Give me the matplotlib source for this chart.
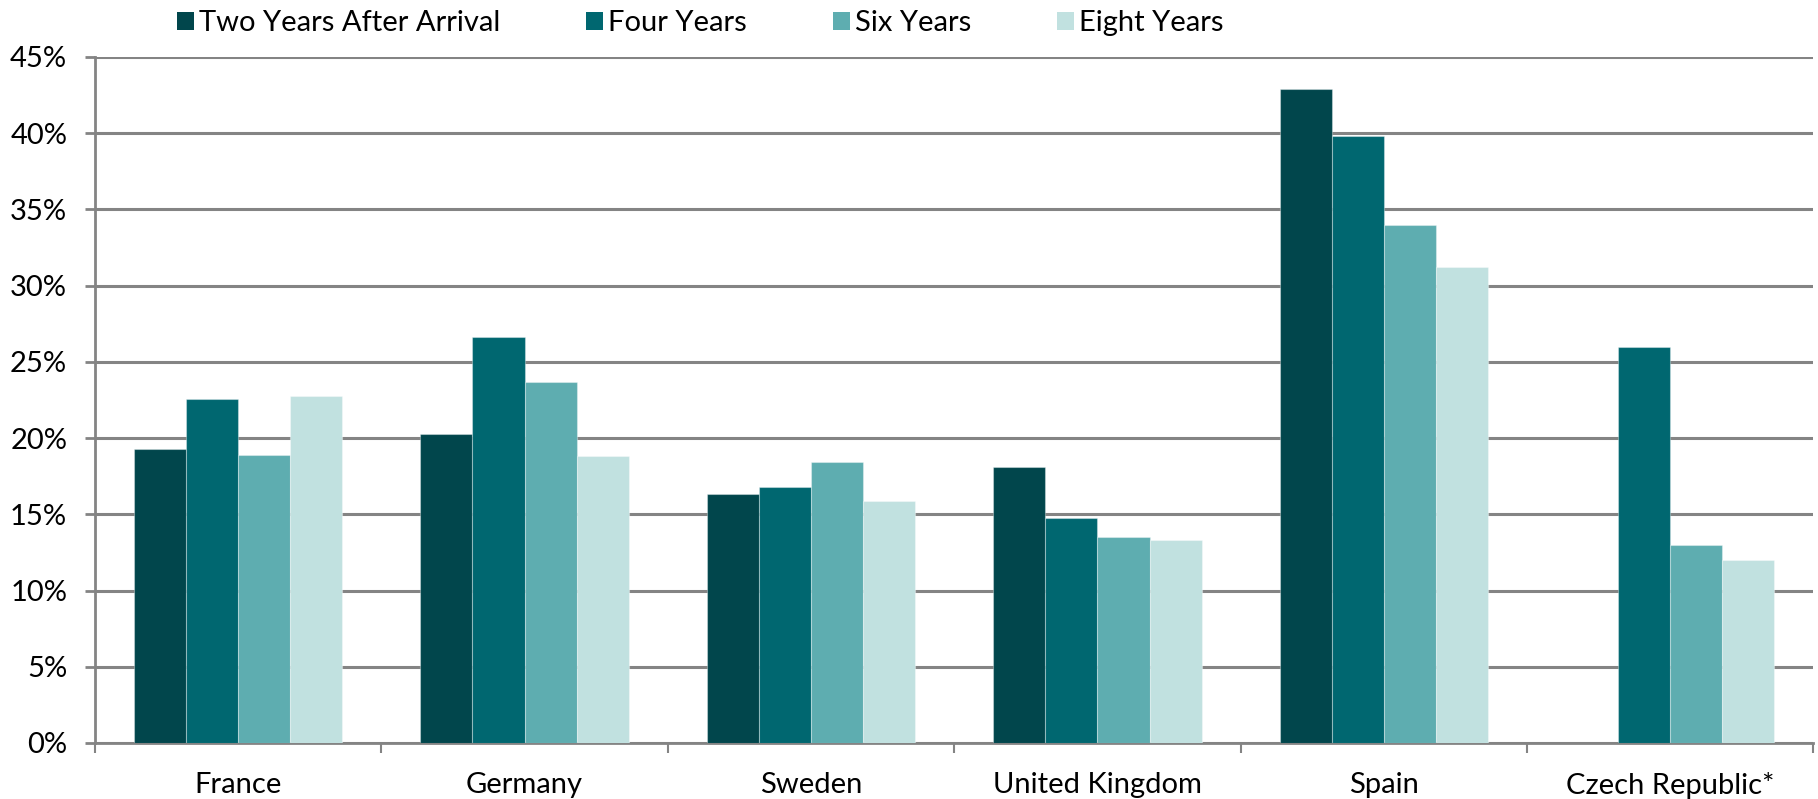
import matplotlib.pyplot as plt
import numpy as np
from matplotlib.patches import Patch
from matplotlib.ticker import FuncFormatter, FixedLocator

plt.rcParams['font.family'] = ['Lato', 'DejaVu Sans']

countries = ['France', 'Germany', 'Sweden', 'United Kingdom', 'Spain', 'Czech Republic*']
series = ['Two Years After Arrival', 'Four Years', 'Six Years', 'Eight Years']
two_years = [19.3, 20.3, 16.3, 18.1, 42.9, np.nan]
four_years = [22.55, 26.6, 16.8, 14.75, 39.8, 26.0]
six_years = [18.9, 23.65, 18.45, 13.5, 34.0, 13.0]
eight_years = [22.75, 18.8, 15.9, 13.3, 31.2, 12.0]
colors = ['#01464c', '#006770', '#5eadb0', '#c1e1e0']

grid_col = '#848484'

fig = plt.figure(figsize=(18.18, 7.99), dpi=100)
ax = fig.add_axes([0.05226, 0.0701, 0.9452, 0.8586])

x = np.arange(len(countries))
w = 0.182
values = [two_years, four_years, six_years, eight_years]
for i, (vals, c) in enumerate(zip(values, colors)):
    ax.bar(x + (i - 1.5) * w, vals, width=w, color=c,
           edgecolor=(1, 1, 1, 0.35), linewidth=0.8, zorder=3)

ax.set_xlim(-0.5, len(countries) - 0.5)
ax.set_ylim(0, 45)
ax.set_yticks(np.arange(0, 46, 5))
ax.yaxis.set_major_formatter(FuncFormatter(lambda v, p: f'{v:.0f}%'))
ax.grid(axis='y', color=grid_col, linewidth=2.2, zorder=0)
ax.set_axisbelow(True)

for s in ['top', 'right']:
    ax.spines[s].set_visible(False)
for s in ['left', 'bottom']:
    ax.spines[s].set_color(grid_col)
    ax.spines[s].set_linewidth(2)

ax.set_xticks(x)
ax.set_xticklabels(countries)
ax.xaxis.set_minor_locator(FixedLocator(np.arange(-0.5, len(countries), 1)))
ax.tick_params(axis='x', which='major', length=0, pad=21, labelsize=21)
ax.tick_params(axis='x', which='minor', length=7, width=1.5, color=grid_col, direction='out')
ax.tick_params(axis='y', length=7, width=2, color=grid_col, pad=13, labelsize=21)

handles = [Patch(facecolor=c, edgecolor='none') for c in colors]
fig.legend(handles, series, loc='center left', bbox_to_anchor=(0.0974, 0.971),
           ncol=4, frameon=False, fontsize=21, handlelength=0.58, handleheight=0.58,
           handletextpad=0.17, columnspacing=2.95, borderaxespad=0, borderpad=0)

fig.savefig('out.png', dpi=100)
